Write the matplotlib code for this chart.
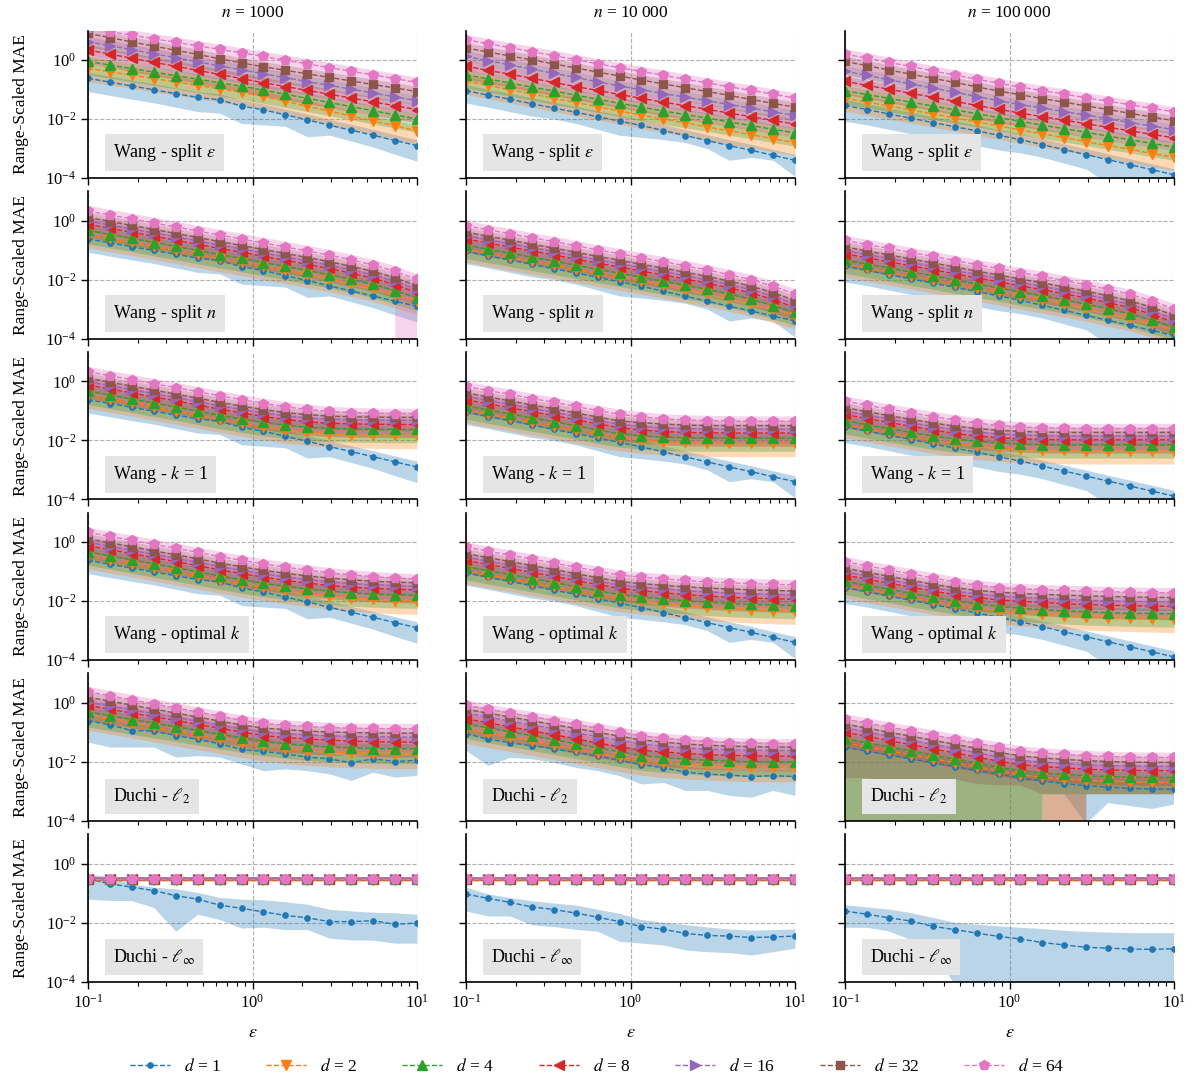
import numpy as np
import matplotlib
matplotlib.use("Agg")
import matplotlib.pyplot as plt
from matplotlib.ticker import LogLocator, NullFormatter, NullLocator

plt.rcParams["font.family"] = "Liberation Serif"
plt.rcParams["mathtext.fontset"] = "stix"
plt.rcParams["font.size"] = 12

eps = [0.1, 0.1359, 0.1848, 0.2512, 0.3415, 0.4642, 0.631, 0.8577,
       1.166, 1.585, 2.154, 2.929, 3.981, 5.412, 7.356, 10.0]
dims = [1, 2, 4, 8, 16, 32, 64]
col_titles = ["$n$ = 1000", "$n$ = 10\u2009000", "$n$ = 100\u2009000"]
row_names = ["Wang - split $\\varepsilon$", "Wang - split $n$", "Wang - $k$ = 1",
             "Wang - optimal $k$", "Duchi - $\\ell_2$", "Duchi - $\\ell_\\infty$"]

# every value below is log10 of the range-scaled MAE, one list per d
# (-300 stands for a band edge at zero)

# d = 1 is the same for all Wang variants
wang_d1_1k = [-0.62, -0.75, -0.88, -1.01, -1.14, -1.27, -1.35, -1.56, -1.69, -1.86, -2.03, -2.21, -2.38, -2.55, -2.73, -2.90]
wang_d1_10k = [-1.04, -1.19, -1.33, -1.48, -1.63, -1.77, -1.92, -2.07, -2.22, -2.39, -2.56, -2.73, -2.90, -3.06, -3.23, -3.40]
wang_d1_100k = [-1.54, -1.68, -1.83, -1.97, -2.12, -2.26, -2.40, -2.55, -2.70, -2.87, -3.04, -3.21, -3.38, -3.55, -3.72, -3.89]
wang_d1_lo_1k = [-1.07, -1.20, -1.33, -1.45, -1.60, -1.75, -1.80, -2.15, -2.20, -2.25, -2.60, -2.55, -2.75, -2.95, -3.20, -3.43]
wang_d1_lo_10k = [-1.46, -1.60, -1.75, -1.90, -2.00, -2.15, -2.35, -2.55, -2.62, -2.70, -2.80, -3.00, -3.40, -3.30, -3.40, -3.95]
wang_d1_lo_100k = [-2.08, -2.20, -2.35, -2.50, -2.60, -2.75, -2.90, -3.05, -3.15, -3.30, -3.50, -3.70, -4.20, -4.20, -4.20, -4.30]

split_eps_1k = [
    wang_d1_1k,
    [-0.28, -0.40, -0.51, -0.63, -0.74, -0.86, -0.98, -1.09, -1.23, -1.40, -1.57, -1.73, -1.90, -2.07, -2.23, -2.40],
    [-0.05, -0.17, -0.29, -0.41, -0.53, -0.65, -0.77, -0.89, -1.02, -1.16, -1.30, -1.44, -1.58, -1.72, -1.86, -2.00],
    [0.34, 0.20, 0.06, -0.08, -0.21, -0.35, -0.49, -0.63, -0.77, -0.90, -1.03, -1.16, -1.29, -1.42, -1.55, -1.68],
    [0.62, 0.48, 0.35, 0.21, 0.08, -0.06, -0.20, -0.33, -0.47, -0.60, -0.73, -0.86, -0.99, -1.12, -1.25, -1.38],
    [0.90, 0.76, 0.61, 0.47, 0.33, 0.19, 0.04, -0.10, -0.23, -0.35, -0.47, -0.59, -0.71, -0.83, -0.95, -1.07],
    [1.08, 0.96, 0.84, 0.72, 0.60, 0.48, 0.36, 0.24, 0.12, -0.01, -0.13, -0.26, -0.38, -0.51, -0.63, -0.76],
]
split_eps_10k = [
    wang_d1_10k,
    [-0.72, -0.86, -1.01, -1.15, -1.30, -1.44, -1.58, -1.73, -1.87, -2.00, -2.13, -2.27, -2.40, -2.53, -2.67, -2.80],
    [-0.50, -0.64, -0.78, -0.92, -1.05, -1.19, -1.33, -1.47, -1.60, -1.73, -1.85, -1.97, -2.10, -2.22, -2.35, -2.47],
    [-0.21, -0.35, -0.48, -0.62, -0.76, -0.90, -1.03, -1.17, -1.30, -1.43, -1.55, -1.67, -1.80, -1.92, -2.05, -2.17],
    [0.12, -0.02, -0.17, -0.31, -0.45, -0.59, -0.74, -0.88, -1.01, -1.14, -1.26, -1.38, -1.51, -1.63, -1.76, -1.88],
    [0.41, 0.27, 0.14, 0.00, -0.13, -0.27, -0.41, -0.54, -0.68, -0.81, -0.94, -1.07, -1.20, -1.34, -1.47, -1.60],
    [0.69, 0.55, 0.42, 0.28, 0.15, 0.01, -0.13, -0.26, -0.39, -0.52, -0.65, -0.78, -0.91, -1.03, -1.16, -1.29],
]
split_eps_100k = [
    wang_d1_100k,
    [-1.29, -1.42, -1.56, -1.69, -1.83, -1.96, -2.10, -2.23, -2.37, -2.50, -2.63, -2.77, -2.90, -3.03, -3.17, -3.30],
    [-1.04, -1.17, -1.30, -1.43, -1.56, -1.69, -1.82, -1.95, -2.08, -2.21, -2.33, -2.45, -2.58, -2.70, -2.83, -2.95],
    [-0.72, -0.86, -0.99, -1.13, -1.26, -1.40, -1.54, -1.67, -1.80, -1.92, -2.04, -2.16, -2.28, -2.40, -2.52, -2.64],
    [-0.38, -0.52, -0.67, -0.81, -0.95, -1.09, -1.24, -1.38, -1.51, -1.63, -1.75, -1.87, -1.99, -2.12, -2.24, -2.36],
    [-0.05, -0.19, -0.34, -0.48, -0.62, -0.76, -0.91, -1.05, -1.18, -1.31, -1.43, -1.56, -1.68, -1.81, -1.93, -2.06],
    [0.20, 0.06, -0.08, -0.22, -0.37, -0.51, -0.65, -0.79, -0.92, -1.04, -1.16, -1.28, -1.40, -1.52, -1.64, -1.76],
]

split_n_1k = [
    wang_d1_1k,
    [-0.46, -0.60, -0.73, -0.87, -1.00, -1.14, -1.28, -1.41, -1.55, -1.68, -1.82, -1.96, -2.12, -2.29, -2.51, -2.72],
    [-0.33, -0.47, -0.60, -0.74, -0.87, -1.01, -1.15, -1.28, -1.42, -1.55, -1.69, -1.83, -1.99, -2.16, -2.38, -2.61],
    [-0.12, -0.26, -0.39, -0.53, -0.66, -0.80, -0.94, -1.07, -1.21, -1.34, -1.48, -1.62, -1.78, -1.95, -2.17, -2.44],
    [-0.01, -0.15, -0.28, -0.42, -0.55, -0.69, -0.83, -0.96, -1.10, -1.23, -1.37, -1.51, -1.67, -1.84, -2.06, -2.33],
    [0.11, -0.03, -0.16, -0.30, -0.43, -0.57, -0.71, -0.84, -0.98, -1.11, -1.25, -1.39, -1.55, -1.72, -1.94, -2.21],
    [0.33, 0.19, 0.06, -0.08, -0.21, -0.35, -0.49, -0.62, -0.76, -0.89, -1.03, -1.17, -1.33, -1.50, -1.72, -1.99],
]
split_n_10k = [
    wang_d1_10k,
    [-0.96, -1.10, -1.23, -1.37, -1.50, -1.64, -1.78, -1.91, -2.05, -2.18, -2.32, -2.46, -2.62, -2.79, -3.01, -3.22],
    [-0.83, -0.97, -1.10, -1.24, -1.37, -1.51, -1.65, -1.78, -1.92, -2.05, -2.19, -2.33, -2.49, -2.66, -2.88, -3.11],
    [-0.62, -0.76, -0.89, -1.03, -1.16, -1.30, -1.44, -1.57, -1.71, -1.84, -1.98, -2.12, -2.28, -2.45, -2.67, -2.94],
    [-0.51, -0.65, -0.78, -0.92, -1.05, -1.19, -1.33, -1.46, -1.60, -1.73, -1.87, -2.01, -2.17, -2.34, -2.56, -2.83],
    [-0.39, -0.53, -0.66, -0.80, -0.93, -1.07, -1.21, -1.34, -1.48, -1.61, -1.75, -1.89, -2.05, -2.22, -2.44, -2.71],
    [-0.17, -0.31, -0.44, -0.58, -0.71, -0.85, -0.99, -1.12, -1.26, -1.39, -1.53, -1.67, -1.83, -2.00, -2.22, -2.49],
]
split_n_100k = [
    wang_d1_100k,
    [-1.46, -1.60, -1.73, -1.87, -2.00, -2.14, -2.28, -2.41, -2.55, -2.68, -2.82, -2.96, -3.12, -3.29, -3.51, -3.72],
    [-1.33, -1.47, -1.60, -1.74, -1.87, -2.01, -2.15, -2.28, -2.42, -2.55, -2.69, -2.83, -2.99, -3.16, -3.38, -3.61],
    [-1.12, -1.26, -1.39, -1.53, -1.66, -1.80, -1.94, -2.07, -2.21, -2.34, -2.48, -2.62, -2.78, -2.95, -3.17, -3.44],
    [-1.01, -1.15, -1.28, -1.42, -1.55, -1.69, -1.83, -1.96, -2.10, -2.23, -2.37, -2.51, -2.67, -2.84, -3.06, -3.33],
    [-0.89, -1.03, -1.16, -1.30, -1.43, -1.57, -1.71, -1.84, -1.98, -2.11, -2.25, -2.39, -2.55, -2.72, -2.94, -3.21],
    [-0.67, -0.81, -0.94, -1.08, -1.21, -1.35, -1.49, -1.62, -1.76, -1.89, -2.03, -2.17, -2.33, -2.50, -2.72, -2.99],
]

k1_1k = [
    wang_d1_1k,
    [-0.46, -0.60, -0.73, -0.87, -1.00, -1.14, -1.28, -1.41, -1.53, -1.64, -1.72, -1.77, -1.80, -1.82, -1.83, -1.83],
    [-0.33, -0.47, -0.60, -0.74, -0.87, -1.01, -1.15, -1.28, -1.39, -1.48, -1.55, -1.59, -1.61, -1.62, -1.63, -1.63],
    [-0.12, -0.26, -0.39, -0.53, -0.66, -0.80, -0.94, -1.07, -1.19, -1.29, -1.37, -1.42, -1.44, -1.45, -1.46, -1.46],
    [-0.01, -0.15, -0.28, -0.42, -0.55, -0.69, -0.83, -0.96, -1.07, -1.17, -1.24, -1.28, -1.30, -1.31, -1.32, -1.32],
    [0.11, -0.03, -0.16, -0.30, -0.43, -0.57, -0.71, -0.84, -0.96, -1.06, -1.13, -1.18, -1.20, -1.21, -1.22, -1.22],
    [0.33, 0.19, 0.06, -0.08, -0.21, -0.35, -0.49, -0.62, -0.75, -0.86, -0.95, -1.02, -1.06, -1.08, -1.09, -1.09],
]
k1_10k = [
    wang_d1_10k,
    [-0.96, -1.10, -1.23, -1.37, -1.50, -1.64, -1.78, -1.91, -1.99, -2.04, -2.07, -2.09, -2.10, -2.10, -2.10, -2.10],
    [-0.83, -0.97, -1.10, -1.24, -1.37, -1.51, -1.65, -1.78, -1.85, -1.89, -1.91, -1.92, -1.92, -1.92, -1.92, -1.92],
    [-0.62, -0.76, -0.89, -1.03, -1.16, -1.30, -1.44, -1.57, -1.65, -1.70, -1.73, -1.74, -1.75, -1.75, -1.75, -1.75],
    [-0.51, -0.65, -0.78, -0.92, -1.05, -1.19, -1.33, -1.46, -1.53, -1.58, -1.60, -1.61, -1.62, -1.62, -1.62, -1.62],
    [-0.39, -0.53, -0.66, -0.80, -0.93, -1.07, -1.21, -1.34, -1.40, -1.45, -1.48, -1.50, -1.50, -1.50, -1.50, -1.50],
    [-0.17, -0.31, -0.44, -0.58, -0.71, -0.85, -0.99, -1.12, -1.20, -1.27, -1.31, -1.33, -1.34, -1.35, -1.35, -1.35],
]
k1_100k = [
    wang_d1_100k,
    [-1.46, -1.60, -1.73, -1.86, -1.99, -2.11, -2.20, -2.26, -2.30, -2.33, -2.34, -2.35, -2.35, -2.35, -2.35, -2.35],
    [-1.33, -1.47, -1.60, -1.73, -1.85, -1.95, -2.03, -2.08, -2.12, -2.14, -2.15, -2.15, -2.15, -2.15, -2.15, -2.15],
    [-1.12, -1.26, -1.39, -1.52, -1.65, -1.76, -1.85, -1.91, -1.95, -1.97, -1.98, -1.98, -1.98, -1.98, -1.98, -1.98],
    [-1.01, -1.15, -1.28, -1.41, -1.53, -1.64, -1.72, -1.78, -1.82, -1.84, -1.85, -1.85, -1.85, -1.85, -1.85, -1.85],
    [-0.89, -1.03, -1.16, -1.29, -1.41, -1.52, -1.60, -1.66, -1.70, -1.72, -1.73, -1.73, -1.73, -1.73, -1.73, -1.73],
    [-0.67, -0.81, -0.94, -1.07, -1.19, -1.31, -1.41, -1.49, -1.54, -1.57, -1.59, -1.60, -1.60, -1.60, -1.60, -1.60],
]

opt_k_1k = [
    wang_d1_1k,
    [-0.46, -0.60, -0.73, -0.87, -1.00, -1.14, -1.28, -1.41, -1.53, -1.64, -1.74, -1.82, -1.89, -1.94, -1.98, -2.00],
    [-0.33, -0.47, -0.60, -0.74, -0.87, -1.01, -1.15, -1.28, -1.40, -1.50, -1.59, -1.66, -1.72, -1.76, -1.78, -1.80],
    [-0.12, -0.26, -0.39, -0.53, -0.66, -0.80, -0.94, -1.07, -1.19, -1.30, -1.39, -1.47, -1.53, -1.57, -1.60, -1.62],
    [-0.01, -0.15, -0.28, -0.42, -0.55, -0.69, -0.83, -0.96, -1.08, -1.18, -1.27, -1.35, -1.41, -1.45, -1.48, -1.50],
    [0.11, -0.03, -0.16, -0.30, -0.43, -0.57, -0.71, -0.84, -0.96, -1.06, -1.15, -1.22, -1.28, -1.33, -1.36, -1.38],
    [0.33, 0.19, 0.06, -0.08, -0.21, -0.35, -0.49, -0.62, -0.74, -0.85, -0.95, -1.04, -1.11, -1.17, -1.22, -1.25],
]
opt_k_10k = [
    wang_d1_10k,
    [-0.96, -1.10, -1.23, -1.37, -1.50, -1.64, -1.78, -1.91, -1.99, -2.07, -2.14, -2.20, -2.25, -2.29, -2.32, -2.34],
    [-0.83, -0.97, -1.10, -1.24, -1.37, -1.51, -1.65, -1.78, -1.86, -1.93, -1.99, -2.04, -2.08, -2.11, -2.13, -2.15],
    [-0.62, -0.76, -0.89, -1.03, -1.16, -1.30, -1.44, -1.57, -1.65, -1.72, -1.78, -1.83, -1.87, -1.90, -1.92, -1.94],
    [-0.51, -0.65, -0.78, -0.92, -1.05, -1.19, -1.33, -1.46, -1.53, -1.59, -1.64, -1.69, -1.72, -1.75, -1.77, -1.79],
    [-0.39, -0.53, -0.66, -0.80, -0.93, -1.07, -1.21, -1.34, -1.41, -1.47, -1.52, -1.56, -1.59, -1.62, -1.64, -1.66],
    [-0.17, -0.31, -0.44, -0.58, -0.71, -0.85, -0.99, -1.12, -1.19, -1.25, -1.30, -1.35, -1.38, -1.41, -1.43, -1.45],
]
opt_k_100k = [
    wang_d1_100k,
    [-1.46, -1.60, -1.73, -1.87, -2.00, -2.13, -2.24, -2.33, -2.39, -2.44, -2.49, -2.53, -2.56, -2.58, -2.60, -2.62],
    [-1.33, -1.47, -1.60, -1.74, -1.87, -2.00, -2.10, -2.18, -2.24, -2.29, -2.33, -2.36, -2.39, -2.41, -2.42, -2.43],
    [-1.12, -1.26, -1.39, -1.53, -1.66, -1.78, -1.88, -1.96, -2.01, -2.05, -2.09, -2.12, -2.14, -2.16, -2.17, -2.18],
    [-1.01, -1.15, -1.28, -1.42, -1.55, -1.67, -1.76, -1.83, -1.87, -1.91, -1.94, -1.97, -1.99, -2.01, -2.02, -2.03],
    [-0.89, -1.03, -1.16, -1.30, -1.43, -1.55, -1.64, -1.70, -1.74, -1.77, -1.80, -1.82, -1.84, -1.86, -1.87, -1.88],
    [-0.67, -0.81, -0.94, -1.08, -1.21, -1.35, -1.46, -1.54, -1.58, -1.61, -1.64, -1.66, -1.68, -1.70, -1.71, -1.72],
]

duchi_l2_1k = [
    [-0.60, -0.75, -0.94, -0.96, -1.11, -1.24, -1.39, -1.58, -1.65, -1.73, -1.84, -1.90, -2.03, -1.90, -1.99, -1.95],
    [-0.43, -0.56, -0.69, -0.83, -0.96, -1.09, -1.22, -1.35, -1.48, -1.56, -1.62, -1.67, -1.70, -1.72, -1.73, -1.73],
    [-0.32, -0.44, -0.57, -0.69, -0.81, -0.93, -1.06, -1.18, -1.30, -1.38, -1.45, -1.50, -1.53, -1.55, -1.56, -1.56],
    [-0.09, -0.22, -0.35, -0.47, -0.60, -0.73, -0.86, -0.99, -1.11, -1.18, -1.23, -1.27, -1.30, -1.32, -1.33, -1.33],
    [0.02, -0.11, -0.24, -0.37, -0.50, -0.63, -0.76, -0.89, -1.00, -1.05, -1.09, -1.12, -1.14, -1.15, -1.16, -1.16],
    [0.19, 0.06, -0.08, -0.21, -0.35, -0.48, -0.62, -0.75, -0.86, -0.91, -0.96, -0.99, -1.01, -1.02, -1.03, -1.03],
    [0.38, 0.24, 0.10, -0.04, -0.17, -0.31, -0.45, -0.59, -0.70, -0.76, -0.80, -0.84, -0.86, -0.87, -0.88, -0.88],
]
duchi_l2_10k = [
    [-1.05, -1.23, -1.35, -1.46, -1.55, -1.68, -1.80, -1.95, -2.10, -2.20, -2.35, -2.42, -2.45, -2.50, -2.47, -2.50],
    [-0.88, -1.02, -1.15, -1.29, -1.42, -1.56, -1.70, -1.83, -1.96, -2.03, -2.08, -2.12, -2.15, -2.17, -2.18, -2.18],
    [-0.71, -0.85, -0.98, -1.12, -1.25, -1.39, -1.53, -1.66, -1.79, -1.86, -1.91, -1.95, -1.98, -2.00, -2.01, -2.01],
    [-0.54, -0.68, -0.81, -0.95, -1.08, -1.22, -1.36, -1.49, -1.61, -1.67, -1.72, -1.76, -1.78, -1.80, -1.81, -1.81],
    [-0.35, -0.48, -0.62, -0.75, -0.88, -1.02, -1.15, -1.28, -1.40, -1.47, -1.53, -1.57, -1.59, -1.61, -1.62, -1.62],
    [-0.22, -0.35, -0.48, -0.61, -0.74, -0.87, -1.00, -1.13, -1.26, -1.33, -1.40, -1.44, -1.47, -1.49, -1.50, -1.50],
    [-0.09, -0.22, -0.35, -0.47, -0.60, -0.73, -0.86, -0.99, -1.12, -1.20, -1.27, -1.32, -1.35, -1.37, -1.39, -1.39],
]
duchi_l2_100k = [
    [-1.51, -1.64, -1.77, -1.90, -2.03, -2.16, -2.29, -2.42, -2.55, -2.65, -2.74, -2.81, -2.86, -2.90, -2.92, -2.93],
    [-1.35, -1.49, -1.62, -1.76, -1.89, -2.03, -2.17, -2.30, -2.44, -2.52, -2.58, -2.63, -2.66, -2.68, -2.70, -2.70],
    [-1.22, -1.36, -1.50, -1.63, -1.77, -1.91, -2.04, -2.18, -2.31, -2.38, -2.43, -2.47, -2.50, -2.52, -2.53, -2.53],
    [-1.00, -1.14, -1.28, -1.42, -1.56, -1.70, -1.84, -1.98, -2.10, -2.16, -2.21, -2.25, -2.28, -2.29, -2.30, -2.30],
    [-0.85, -0.99, -1.13, -1.27, -1.41, -1.55, -1.69, -1.83, -1.95, -2.01, -2.06, -2.10, -2.13, -2.14, -2.15, -2.15],
    [-0.72, -0.86, -1.00, -1.13, -1.27, -1.41, -1.54, -1.68, -1.80, -1.87, -1.92, -1.96, -1.99, -2.01, -2.02, -2.02],
    [-0.55, -0.69, -0.82, -0.96, -1.09, -1.23, -1.37, -1.50, -1.63, -1.70, -1.75, -1.79, -1.82, -1.84, -1.85, -1.85],
]
duchi_l2_d1_lo_1k = [-1.33, -1.50, -1.50, -1.50, -1.84, -1.79, -1.84, -2.07, -2.30, -2.24, -2.30, -2.41, -2.63, -2.35, -2.52, -2.46]
duchi_l2_d1_lo_10k = [-1.62, -2.12, -1.85, -1.90, -2.02, -2.19, -2.30, -2.47, -2.75, -2.70, -2.97, -2.97, -3.14, -3.20, -2.97, -3.14]
duchi_l2_d1_lo_100k = [-300, -300, -300, -300, -300, -300, -300, -300, -300, -3.10, -3.10, -4.10, -3.40, -3.50, -3.60, -3.45]
duchi_l2_d2_lo_100k = [-300, -300, -300, -300, -300, -300, -300, -300, -300, -3.10, -300, -3.10, -3.10, -3.10, -3.10, -3.10]
duchi_l2_d4_lo_100k = [-300, -300, -300, -300, -300, -300, -300, -300, -300, -3.10, -3.10, -3.10, -3.10, -3.10, -3.10, -3.10]
duchi_l2_d32_lo_100k = [-2.55, -2.55, -2.65, -2.70, -2.80, -2.60, -2.75, -2.80, -2.80, -3.10, -300, -3.10, -3.10, -3.10, -3.10, -3.10]

duchi_linf_flat = [-0.52] * 16
duchi_linf_flat_d2 = [-0.56] * 16
duchi_linf_d1_1k = [-0.52, -0.69, -0.80, -0.92, -1.09, -1.21, -1.41, -1.52, -1.64, -1.76, -1.84, -1.97, -1.97, -1.94, -2.06, -2.02]
duchi_linf_d1_10k = [-1.04, -1.18, -1.32, -1.47, -1.56, -1.68, -1.82, -1.97, -2.14, -2.23, -2.37, -2.44, -2.46, -2.51, -2.49, -2.46]
duchi_linf_d1_100k = [-1.61, -1.72, -1.84, -1.95, -2.13, -2.24, -2.36, -2.47, -2.56, -2.68, -2.76, -2.84, -2.87, -2.90, -2.91, -2.89]
duchi_linf_d1_lo_1k = [-1.21, -1.25, -1.26, -1.49, -2.30, -1.72, -1.90, -2.19, -2.16, -2.24, -2.24, -2.53, -2.59, -2.60, -2.70, -2.70]
duchi_linf_d1_lo_10k = [-1.61, -1.78, -1.78, -2.08, -2.14, -2.23, -2.30, -2.64, -2.70, -2.76, -2.93, -2.99, -3.02, -3.10, -2.99, -2.87]
duchi_linf_d1_lo_100k = [-2.18, -2.18, -2.30, -2.59, -3.00, -4.10, -300, -300, -300, -300, -300, -300, -300, -300, -300, -300]
duchi_linf_d1_hi_1k = [-0.34, -0.46, -0.69, -0.80, -0.86, -0.98, -1.15, -1.21, -1.23, -1.30, -1.38, -1.55, -1.61, -1.65, -1.67, -1.72]
duchi_linf_d1_hi_10k = [-0.80, -1.03, -1.15, -1.26, -1.34, -1.41, -1.55, -1.69, -1.90, -1.99, -2.07, -2.15, -2.22, -2.26, -2.24, -2.22]
duchi_linf_d1_hi_100k = [-1.41, -1.49, -1.56, -1.68, -1.84, -2.01, -2.07, -2.13, -2.18, -2.22, -2.28, -2.32, -2.34, -2.36, -2.36, -2.36]

split_n_d64_lo_1k = [-0.12, -0.26, -0.39, -0.53, -0.66, -0.80, -0.94, -1.07, -1.21, -1.34, -1.48, -1.62, -1.78, -1.95, -2.17, -300]

# spread of the shaded bands (dex) for d > 1, per row
band_below = [0.45, 0.45, 0.45, 0.45, 0.5, 0.06]
band_above = [0.18, 0.18, 0.18, 0.18, 0.18, 0.05]

colors = ["#1f77b4", "#ff7f0e", "#2ca02c", "#d62728", "#9467bd", "#8c564b", "#e377c2"]
markers = ["o", "v", "^", "<", ">", "s", "p"]
msizes = [3.8, 6.8, 6.8, 6.8, 6.8, 6.3, 7.2]


def linf(d1):
    return [d1, duchi_linf_flat_d2] + [duchi_linf_flat] * 5


panel_means = [
    [split_eps_1k, split_eps_10k, split_eps_100k],
    [split_n_1k, split_n_10k, split_n_100k],
    [k1_1k, k1_10k, k1_100k],
    [opt_k_1k, opt_k_10k, opt_k_100k],
    [duchi_l2_1k, duchi_l2_10k, duchi_l2_100k],
    [linf(duchi_linf_d1_1k), linf(duchi_linf_d1_10k), linf(duchi_linf_d1_100k)],
]
wang_lo = [wang_d1_lo_1k, wang_d1_lo_10k, wang_d1_lo_100k]
d1_low = [wang_lo, wang_lo, wang_lo, wang_lo,
          [duchi_l2_d1_lo_1k, duchi_l2_d1_lo_10k, duchi_l2_d1_lo_100k],
          [duchi_linf_d1_lo_1k, duchi_linf_d1_lo_10k, duchi_linf_d1_lo_100k]]
d1_high = {(5, 0): duchi_linf_d1_hi_1k, (5, 1): duchi_linf_d1_hi_10k, (5, 2): duchi_linf_d1_hi_100k}
low_override = {(1, 0, 6): split_n_d64_lo_1k,
                (4, 2, 1): duchi_l2_d2_lo_100k,
                (4, 2, 2): duchi_l2_d4_lo_100k,
                (4, 2, 5): duchi_l2_d32_lo_100k}

W, H = 1195, 1079
fig = plt.figure(figsize=(W / 100, H / 100), dpi=100)
lefts = [88, 466, 845]
handles = []
for r in range(6):
    bottom = 178 + 160.7 * r
    for c in range(3):
        ax = fig.add_axes([lefts[c] / W, 1 - bottom / H, 329 / W, 147.5 / H])
        x = np.array(eps)
        for i, d in enumerate(dims):
            m = np.array(panel_means[r][c][i])
            if i == 0:
                lo = np.array(d1_low[r][c])
                hi = np.array(d1_high.get((r, c), m + 0.2))
            else:
                lo = m - band_below[r]
                hi = m + band_above[r]
            if (r, c, i) in low_override:
                lo = np.array(low_override[(r, c, i)])
            ln, = ax.plot(x, 10 ** m, linestyle="--", linewidth=1.0, color=colors[i],
                          marker=markers[i], markersize=msizes[i], label=f"$d$ = {d}")
            ax.fill_between(x, 10.0 ** lo, 10.0 ** hi, color=colors[i], alpha=0.3, linewidth=0)
            if r == 0 and c == 0:
                handles.append(ln)
        ax.set_xscale("log")
        ax.set_yscale("log")
        ax.set_xlim(0.1, 10)
        ax.set_ylim(1e-4, 10)
        ax.set_yticks([1e-4, 1e-2, 1e0])
        ax.yaxis.set_minor_locator(NullLocator())
        ax.xaxis.set_major_locator(LogLocator(base=10))
        ax.xaxis.set_minor_locator(LogLocator(base=10, subs=np.arange(2, 10)))
        ax.xaxis.set_minor_formatter(NullFormatter())
        ax.grid(True, which="major", linestyle="--", color="#b0b0b0", linewidth=0.8)
        ax.set_axisbelow(True)
        for s in ["top", "right"]:
            ax.spines[s].set_visible(False)
        for s in ["left", "bottom"]:
            ax.spines[s].set_linewidth(1.2)
        ax.tick_params(which="major", length=5, width=1.0, labelsize=12)
        ax.tick_params(which="minor", length=3, width=0.8)
        if r < 5:
            ax.tick_params(axis="x", labelbottom=False)
        else:
            ax.set_xlabel("$\\varepsilon$", fontsize=13, labelpad=9)
        if c > 0:
            ax.tick_params(axis="y", labelleft=False)
        else:
            ax.set_ylabel("Range-Scaled MAE", fontsize=12.5, labelpad=12)
        if r == 0:
            ax.set_title(col_titles[c], fontsize=12.5, pad=10)
        ax.text(0.076, 0.1, row_names[r], transform=ax.transAxes, fontsize=13,
                ha="left", va="bottom",
                bbox=dict(boxstyle="square,pad=0.45", facecolor="#e5e5e5", edgecolor="none"))

fig.legend(handles=handles, loc="lower center", ncol=7, frameon=False,
           bbox_to_anchor=(0.5, -0.011), fontsize=12.5, handlelength=2.3, columnspacing=2.6)
fig.savefig("out.png", dpi=100)
